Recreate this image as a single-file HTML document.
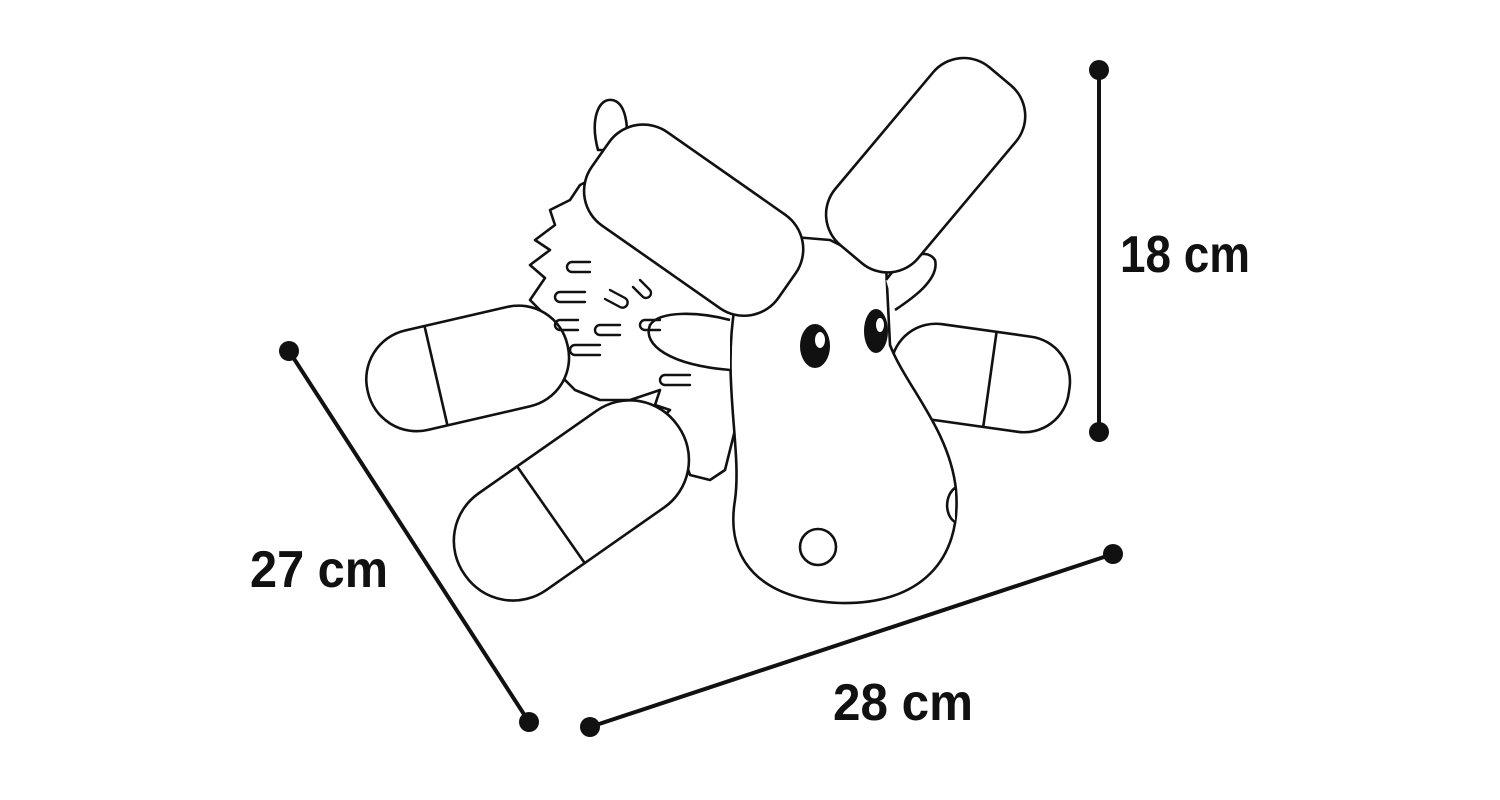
<!DOCTYPE html>
<html><head><meta charset="utf-8"><style>
html,body{margin:0;padding:0;background:#fff;}
svg{display:block}
text{font-family:"Liberation Sans Narrow","Liberation Sans",sans-serif;font-weight:bold;font-size:52px;fill:#111}
</style></head><body>
<svg width="1500" height="800" viewBox="0 0 1500 800" xmlns="http://www.w3.org/2000/svg">
<g stroke="#111" stroke-width="4" fill="none">
<line x1="1099" y1="70" x2="1099" y2="432"/>
<line x1="289" y1="351" x2="529" y2="722"/>
<line x1="590" y1="727" x2="1113" y2="554"/>
</g>
<g fill="#111">
<circle cx="1099" cy="70" r="10"/><circle cx="1099" cy="432" r="10"/>
<circle cx="289" cy="351" r="10"/><circle cx="529" cy="722" r="10"/>
<circle cx="590" cy="727" r="10"/><circle cx="1113" cy="554" r="10"/>
</g>
<text x="1120" y="272" textLength="130" lengthAdjust="spacingAndGlyphs">18 cm</text>
<text x="250" y="587" textLength="138" lengthAdjust="spacingAndGlyphs">27 cm</text>
<text x="833" y="720" textLength="140" lengthAdjust="spacingAndGlyphs">28 cm</text>

<g stroke="#111" stroke-width="2.6" fill="#fff" stroke-linejoin="round">
<path d="M600 175 L580 185 L570 200 L550 210 L555 225 L535 240 L550 250 L530 265 L545 278 L530 300 L545 315 L535 330 L550 345 L545 360 L560 375 L575 390 L600 400 L630 400 L660 390 L655 405 L670 410 L660 420 L680 430 L670 445 L685 460 L690 475 L710 480 L725 470 L735 430 L735 300 Z"/>
<g transform="rotate(-13 465 368)"><rect x="365" y="318" width="205" height="102" rx="50"/><line x1="435" y1="318" x2="435" y2="420"/></g>
<g transform="rotate(8 980 378)"><rect x="890" y="330" width="180" height="96" rx="45"/><line x1="990" y1="330" x2="990" y2="426"/></g>
<g transform="rotate(-35 565 500)"><rect x="440" y="445" width="260" height="118" rx="58"/><line x1="545" y1="445" x2="545" y2="563"/></g>
<path d="M735 305 C722 380 742 450 735 500 C725 560 760 600 840 603 C920 605 962 560 956 490 C950 430 905 385 890 345 L886 265 L860 255 L830 240 L770 235 L740 260 Z"/>
<path d="M730 320 C700 312 660 310 650 325 C642 345 670 365 730 370"/>
<path d="M598 150 C590 120 598 98 612 100 C625 102 630 125 625 150 Z"/>
<path d="M886 280 C900 260 925 245 935 260 C940 280 910 300 895 310"/>
<rect x="580" y="162" width="228" height="114" rx="42" transform="rotate(35 692 219)"/>
<rect x="810" y="112" width="232" height="108" rx="40" transform="rotate(-50 925 166)"/>
<circle cx="818" cy="547" r="18"/>
<path d="M955 488 C945 495 944 515 955 522"/>
</g>
<g fill="#111"><ellipse cx="815" cy="346" rx="15" ry="22"/><ellipse cx="876" cy="331" rx="12" ry="22"/></g>
<g fill="#fff"><ellipse cx="820" cy="340" rx="5" ry="8"/><ellipse cx="880" cy="325" rx="4" ry="7"/></g>
<g stroke="#111" stroke-width="2.4" fill="none" stroke-linecap="round">
<path d="M590 262 h-18 a5 5 0 0 0 0 10 h18"/>
<path d="M585 292 h-25 a5 5 0 0 0 0 10 h25"/>
<path d="M578 320 h-18 a5 5 0 0 0 0 10 h18"/>
<path d="M600 345 h-25 a5 5 0 0 0 0 10 h25"/>
<path d="M610 290 l15 8 a5 5 0 0 1 -5 9 l-15 -8"/>
<path d="M640 280 l10 10 a5 5 0 0 1 -7 7 l-10 -10"/>
<path d="M620 325 h-20 a5 5 0 0 0 0 10 h20"/>
<path d="M690 375 h-25 a5 5 0 0 0 0 10 h25"/>
<path d="M660 320 h-15 a5 5 0 0 0 0 10 h15"/>
</g>
</svg>
</body></html>
